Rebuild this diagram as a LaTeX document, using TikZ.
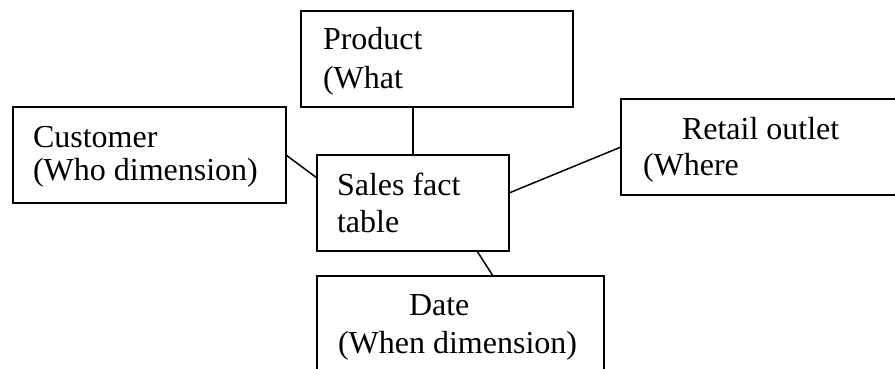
\documentclass[tikz,border=0pt]{standalone}
\usepackage{fontspec}
\setmainfont{Liberation Serif}
\begin{document}
\begin{tikzpicture}[x=1pt,y=-1pt,
  box/.style={draw=black,line width=1.8pt,rectangle,inner sep=0pt,outer sep=0pt},
  txt/.style={anchor=base west,inner sep=0pt,outer sep=0pt,font=\fontsize{32}{38}\selectfont},
  link/.style={draw=black,line width=1.5pt}]
\useasboundingbox (0,0) rectangle (895,368);
\clip (0,0) rectangle (895,368);
\fill[white] (0,0) rectangle (895,368);
% boxes
\node[box,minimum width=272pt,minimum height=96pt] (product) at (437,59) {};
\node[box,minimum width=273pt,minimum height=96pt] (customer) at (149.5,155) {};
\node[box,minimum width=192pt,minimum height=96pt] (sales) at (413,203) {};
\node[box,minimum width=279pt,minimum height=96pt] (retail) at (760.5,147) {};
\node[box,minimum width=287pt,minimum height=100pt] (date) at (460.5,326) {};
% texts
\node[txt] (t1) at (323,49) {Product};
\node[txt] (t2) at (323,88) {(What};
\node[txt] (t3) at (33,147) {Customer};
\node[txt] (t4) at (33,180) {(Who dimension)};
\node[txt] (t5) at (337,195) {Sales fact};
\node[txt] (t6) at (337,232) {table};
\node[txt] (t7) at (682,139) {Retail outlet};
\node[txt] (t8) at (643,175) {(Where};
\node[txt] (t9) at (409,315) {Date};
\node[txt] (t10) at (338,353) {(When dimension)};
% connectors
\draw[link] (sales.north |- product.south) -- (sales.north);
\draw[link] (customer.east) -- ([yshift=25pt]sales.west);
\draw[link] ([yshift=10pt]sales.east) -- (retail.west);
\draw[link] ([xshift=64pt]sales.south) -- ([xshift=32.5pt]date.north);
\end{tikzpicture}
\end{document}
